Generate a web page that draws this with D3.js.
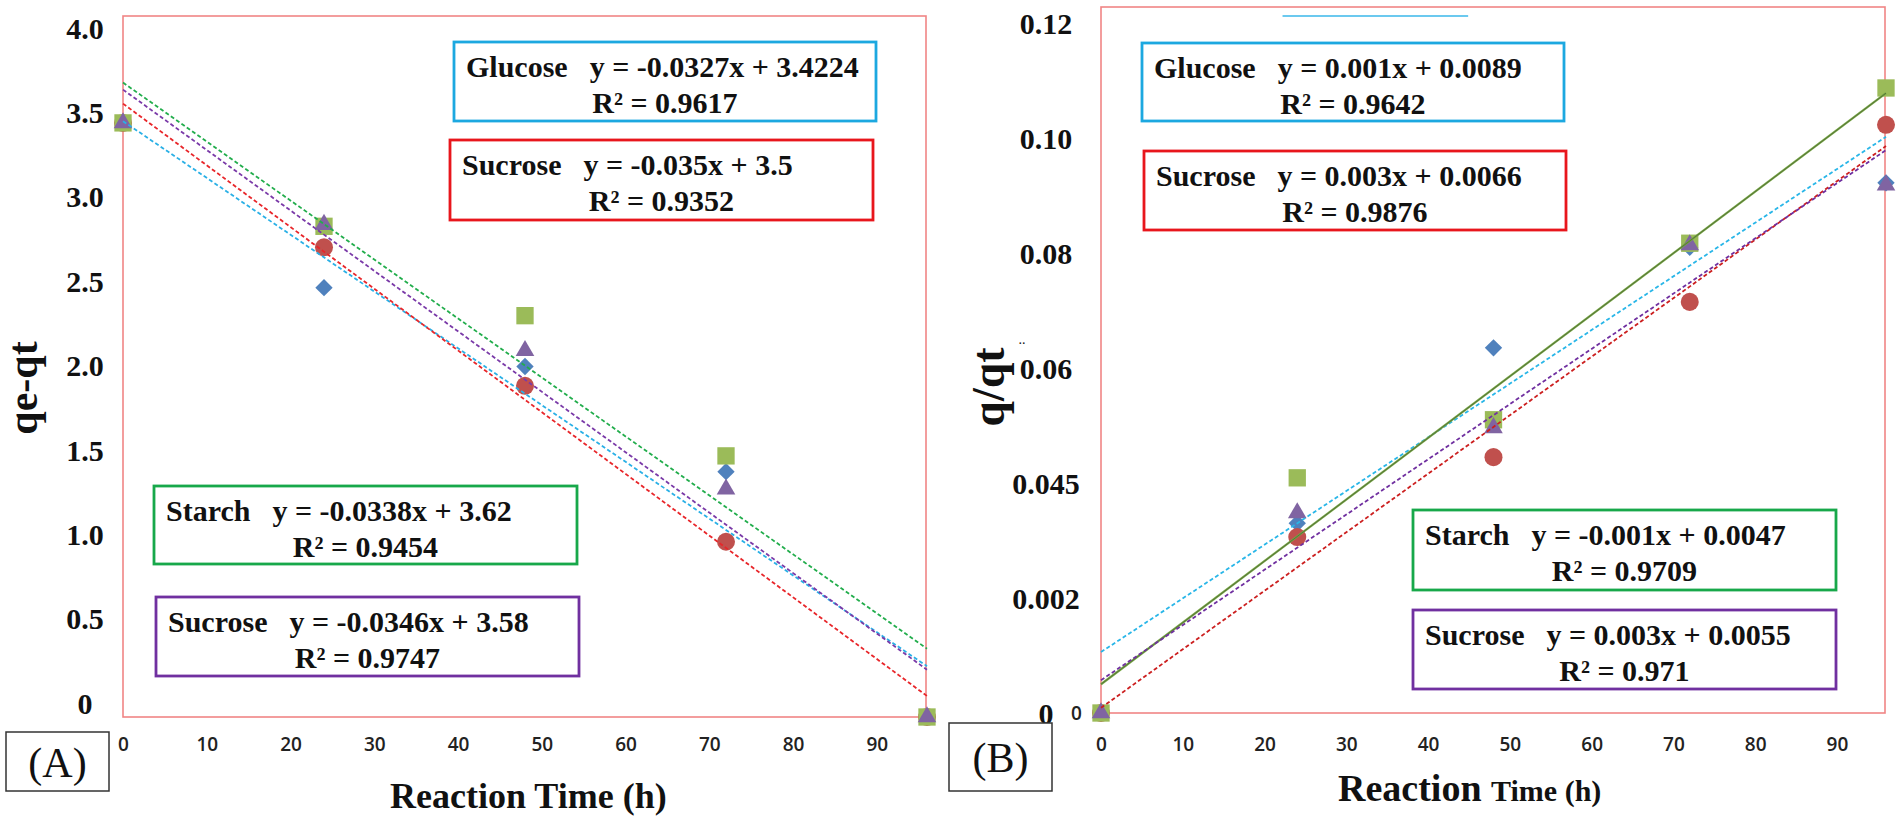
<!DOCTYPE html>
<html>
<head>
<meta charset="utf-8">
<script src="https://cdn.jsdelivr.net/npm/d3@7"></script>
<style>
  body { margin: 0; background: #fff; }
  svg { display: block; }
  .serif { font-family: "Liberation Serif", "Times New Roman", serif; font-weight: bold; fill: #111; }
  .plain { font-family: "Liberation Serif", "Times New Roman", serif; fill: #111; }
  .tick-x { font-family: "Open Sans", sans-serif; font-weight: 600; font-size: 19px; fill: #222; }
</style>
</head>
<body>
<div id="chart"></div>
<script>
const width = 1902, height = 826;

const hours = [0, 24, 48, 72, 96];
const fitHours = [0, 96];
const seriesNames = ["Glucose", "Sucrose", "Starch", "Sucrose"];
const xTicks = [0, 10, 20, 30, 40, 50, 60, 70, 80, 90];

// panel A: qe-qt
const glucoseA  = [3.39, 2.45, 2.00, 1.40, 0];
const sucroseA  = [3.39, 2.68, 1.89, 1.00, 0];
const starchA   = [3.39, 2.80, 2.29, 1.49, 0];
const sucrose2A = [3.39, 2.81, 2.09, 1.30, 0];
const fitGlucoseA  = [3.40, 0.29];
const fitSucroseA  = [3.50, 0.12];
const fitStarchA   = [3.62, 0.39];
const fitSucrose2A = [3.58, 0.27];
const eqA = ["y = -0.0327x + 3.4224", "y = -0.035x + 3.5", "y = -0.0338x + 3.62", "y = -0.0346x + 3.58"];
const r2A = ["0.9617", "0.9352", "0.9454", "0.9747"];
const yTicksA = [0, 0.5, 1.0, 1.5, 2.0, 2.5, 3.0, 3.5, 4.0];
const yTickLabelsA = ["0", "0.5", "1.0", "1.5", "2.0", "2.5", "3.0", "3.5", "4.0"];

// panel B: q/qt
const glucoseB  = [0, 0.0330, 0.0635, 0.0810, 0.0922];
const sucroseB  = [0, 0.0306, 0.0445, 0.0715, 0.1023];
const starchB   = [0, 0.0409, 0.0510, 0.0817, 0.1087];
const sucrose2B = [0, 0.0348, 0.0496, 0.0814, 0.0918];
const fitGlucoseB  = [0.0106, 0.1002];
const fitSucroseB  = [0.0009, 0.0986];
const fitStarchB   = [0.0050, 0.1078];
const fitSucrose2B = [0.0057, 0.0979];
const eqB = ["y = 0.001x + 0.0089", "y = 0.003x + 0.0066", "y = -0.001x + 0.0047", "y = 0.003x + 0.0055"];
const r2B = ["0.9642", "0.9876", "0.9709", "0.971"];
const yTicksB = [0, 0.02, 0.04, 0.06, 0.08, 0.10, 0.12];
const yTickLabelsB = ["0", "0.002", "0.045", "0.06", "0.08", "0.10", "0.12"];
const strayLineB = [[22.2, 0.1212], [44.9, 0.1212]];

const markerFill = ["#4f81bd", "#c0504d", "#9bbb59", "#8064a2"];
const boxColor = ["#1ca8e0", "#e8161c", "#17a84a", "#7030a0"];

const svg = d3.select("#chart")
    .append("svg")
    .attr("width", width)
    .attr("height", height)
    .attr("viewBox", `0 0 ${width} ${height}`);

svg.append("rect").attr("width", width).attr("height", height).attr("fill", "#fff");

const panels = [
    {
        name: "(A)", left: 123, right: 926, top: 16, bottom: 717,
        yDomain: [0, 4], labelRange: [703, 28], labelX: 85,
        yTicks: yTicksA, yLabels: yTickLabelsA,
        values: [glucoseA, sucroseA, starchA, sucrose2A],
        fits: [fitGlucoseA, fitSucroseA, fitStarchA, fitSucrose2A],
        lineColor: ["#2ab0e6", "#e8262a", "#22ad4c", "#7a3aa8"],
        solid: [false, false, false, false],
        eq: eqA, r2: r2A,
        boxes: [[454, 42, 422, 79], [450, 140, 423, 80], [154, 486, 423, 78], [156, 597, 423, 79]],
        title: "qe-qt", titleX: 37, titleY: 388, titleSize: 42,
        tagBox: [6, 732, 103, 59]
    },
    {
        name: "(B)", left: 1101, right: 1885, top: 7, bottom: 713,
        yDomain: [0, 0.12], yRange: [713, 23], labelRange: [713, 23], labelX: 1046,
        yTicks: yTicksB, yLabels: yTickLabelsB,
        values: [glucoseB, sucroseB, starchB, sucrose2B],
        fits: [fitGlucoseB, fitSucroseB, fitStarchB, fitSucrose2B],
        lineColor: ["#29b6e8", "#cc1f1f", "#76a842", "#7030a0"],
        solid: [false, false, true, false],
        eq: eqB, r2: r2B,
        boxes: [[1142, 43, 422, 78], [1144, 151, 422, 79], [1413, 510, 423, 80], [1413, 610, 423, 79]],
        title: "q/qt", titleX: 1004, titleY: 387, titleSize: 46,
        tagBox: [949, 723, 103, 68]
    }
];

const drawPanel = (p) => {
    const xScale = d3.scaleLinear().domain([0, 96]).range([p.left, p.right + 1]);
    const yScale = d3.scaleLinear().domain(p.yDomain).range(p.yRange || [p.bottom, p.top]);
    // tick labels sit where the original figure printed them
    const yLabelScale = d3.scaleLinear().domain(p.yDomain).range(p.labelRange);

    const g = svg.append("g");

    // frame
    g.append("rect")
        .attr("x", p.left).attr("y", p.top)
        .attr("width", p.right - p.left).attr("height", p.bottom - p.top)
        .attr("fill", "none")
        .attr("stroke", "#f08585")
        .attr("stroke-width", 1.6);

    // y tick labels
    const leftAxis = d3.axisLeft(yLabelScale)
        .tickValues(p.yTicks)
        .tickFormat((d, i) => p.yLabels[i])
        .tickSize(0);
    const ya = g.append("g")
        .attr("transform", `translate(${p.labelX},0)`)
        .call(leftAxis);
    ya.select(".domain").remove();
    ya.selectAll("text")
        .attr("class", "serif")
        .attr("x", 0)
        .attr("dy", "0.34em")
        .attr("text-anchor", "middle")
        .style("font-size", "30px");

    // x tick labels
    const bottomAxis = d3.axisBottom(xScale).tickValues(xTicks).tickSize(0);
    const xa = g.append("g")
        .attr("transform", "translate(0,744)")
        .call(bottomAxis);
    xa.select(".domain").remove();
    xa.selectAll("text")
        .attr("class", "tick-x")
        .attr("y", 0)
        .attr("dy", "0.36em");

    // markers: diamond, circle, square, triangle
    const symbols = [
        d3.symbol().type(d3.symbolSquare).size(150),
        d3.symbol().type(d3.symbolCircle).size(255),
        d3.symbol().type(d3.symbolSquare).size(300),
        d3.symbol().type(d3.symbolTriangle).size(150)
    ];
    p.values.forEach((vals, si) => {
        g.append("g")
            .selectAll("path")
            .data(hours.map((h, i) => ({ h, v: vals[i] })))
            .join("path")
            .attr("d", symbols[si])
            .attr("transform", d => `translate(${xScale(d.h)},${yScale(d.v)})` + (si === 0 ? " rotate(45)" : ""))
            .attr("fill", markerFill[si]);
    });

    // trend lines
    const line = d3.line().x(d => xScale(d[0])).y(d => yScale(d[1]));
    p.fits.forEach((fit, si) => {
        const pts = fitHours.map((h, i) => [h, fit[i]]);
        const path = g.append("path")
            .attr("d", line(pts))
            .attr("fill", "none")
            .attr("stroke", p.lineColor[si])
            .attr("stroke-width", p.solid[si] ? 2.2 : 1.8);
        if (p.solid[si]) {
            g.append("path")
                .attr("d", line(pts))
                .attr("fill", "none")
                .attr("stroke", "#4b5a3a")
                .attr("stroke-width", 0.7);
        } else {
            path.attr("stroke-dasharray", "4,2.5");
        }
    });

    // equation boxes
    p.boxes.forEach((b, si) => {
        const bg = g.append("g");
        bg.append("rect")
            .attr("x", b[0]).attr("y", b[1])
            .attr("width", b[2]).attr("height", b[3])
            .attr("fill", "#fff")
            .attr("stroke", boxColor[si])
            .attr("stroke-width", 2.8);
        const t1 = bg.append("text")
            .attr("class", "serif")
            .attr("x", b[0] + 12)
            .attr("y", b[1] + 35)
            .style("font-size", "30px");
        t1.append("tspan").text(seriesNames[si]);
        t1.append("tspan").attr("dx", 22).text(p.eq[si]);
        bg.append("text")
            .attr("class", "serif")
            .attr("x", b[0] + b[2] / 2)
            .attr("y", b[1] + 71)
            .attr("text-anchor", "middle")
            .style("font-size", "30px")
            .text("R² = " + p.r2[si]);
    });

    // y axis title
    g.append("text")
        .attr("class", "serif")
        .attr("transform", `translate(${p.titleX},${p.titleY}) rotate(-90)`)
        .attr("text-anchor", "middle")
        .style("font-size", p.titleSize + "px")
        .text(p.title);

    // panel tag
    g.append("rect")
        .attr("x", p.tagBox[0]).attr("y", p.tagBox[1])
        .attr("width", p.tagBox[2]).attr("height", p.tagBox[3])
        .attr("fill", "#fff")
        .attr("stroke", "#333")
        .attr("stroke-width", 1.5);
    g.append("text")
        .attr("class", "plain")
        .attr("x", p.tagBox[0] + p.tagBox[2] / 2)
        .attr("y", p.tagBox[1] + p.tagBox[3] / 2 + 15)
        .attr("text-anchor", "middle")
        .style("font-size", "42px")
        .text(p.name);

    return { xScale, yScale };
};

const scalesA = drawPanel(panels[0]);
const scalesB = drawPanel(panels[1]);

// x axis titles
svg.append("text")
    .attr("class", "serif")
    .attr("x", 390).attr("y", 808)
    .style("font-size", "36px")
    .text("Reaction Time (h)");

const tB = svg.append("text")
    .attr("class", "serif")
    .attr("x", 1338).attr("y", 801);
tB.append("tspan").style("font-size", "38px").text("Reaction ");
tB.append("tspan").style("font-size", "30px").text("Time (h)");

// leftovers printed in panel B
svg.append("path")
    .attr("d", d3.line().x(d => scalesB.xScale(d[0])).y(d => scalesB.yScale(d[1]))(strayLineB))
    .attr("stroke", "#3ab7ea")
    .attr("stroke-width", 1.5)
    .attr("fill", "none");

svg.append("text")
    .attr("class", "tick-x")
    .attr("x", scalesB.xScale(-3))
    .attr("y", scalesB.yScale(0))
    .attr("dy", "0.36em")
    .attr("text-anchor", "middle")
    .text("0");

svg.append("text")
    .attr("class", "serif")
    .attr("x", 1022)
    .attr("y", scalesB.yScale(0.06) - 24)
    .attr("text-anchor", "middle")
    .style("font-size", "14px")
    .style("font-weight", "normal")
    .text("..");
</script>
</body>
</html>
